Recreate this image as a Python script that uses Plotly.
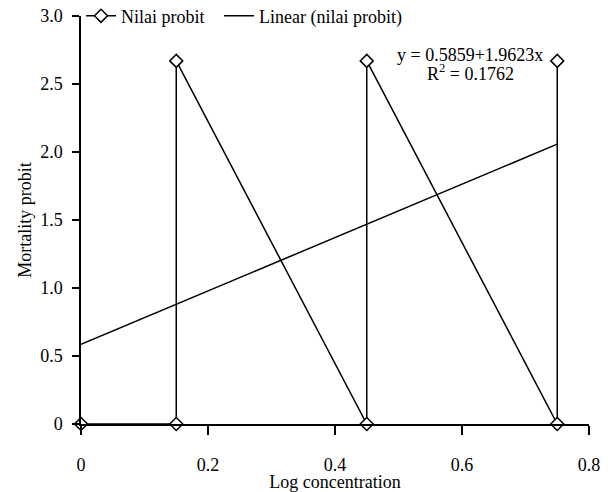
import plotly.graph_objects as go

log_conc = [0, 0.15, 0.15, 0.45, 0.45, 0.75, 0.75]
nilai_probit = [0, 0, 2.67, 0, 2.67, 0, 2.67]
intercept = 0.5859
slope = 1.9623
r2 = 0.1762
trend_x = [0, 0.75]
trend_y = [intercept + slope * x for x in trend_x]

x_ticks = [0, 0.2, 0.4, 0.6, 0.8]
x_labels = ["0", "0.2", "0.4", "0.6", "0.8"]
y_ticks = [0, 0.5, 1.0, 1.5, 2.0, 2.5, 3.0]
y_labels = ["0", "0.5", "1.0", "1.5", "2.0", "2.5", "3.0"]

font = "Liberation Serif, Times New Roman, serif"
FS = 18

fig = go.Figure()
fig.add_trace(go.Scatter(
    x=log_conc, y=nilai_probit, mode="lines+markers", name="Nilai probit",
    line=dict(color="black", width=1.5),
    marker=dict(symbol="diamond", size=10, color="white",
                line=dict(color="black", width=1.5)),
    cliponaxis=False, legend="legend",
))
fig.add_trace(go.Scatter(
    x=trend_x, y=trend_y, mode="lines", name="Linear (nilai probit)",
    line=dict(color="black", width=1.5), legend="legend2",
))

fig.add_annotation(
    x=0.6126, y=2.714, xref="x", yref="y",
    text=f"y = {intercept}+{slope}x",
    showarrow=False, font=dict(family=font, size=FS, color="black"),
)
fig.add_annotation(
    x=0.6126, y=2.584, xref="x", yref="y",
    text=f"R<sup>2</sup> = {r2}",
    showarrow=False, font=dict(family=font, size=FS, color="black"),
)

leg_common = dict(orientation="h", y=1.045, xanchor="left", yanchor="top",
                  bgcolor="rgba(0,0,0,0)", font=dict(size=FS),
                  itemwidth=30, tracegroupgap=0)

fig.update_layout(
    width=600, height=484,
    margin=dict(l=73, r=19, t=8, b=68, autoexpand=False),
    plot_bgcolor="white", paper_bgcolor="white",
    font=dict(family=font, size=FS, color="black"),
    showlegend=True,
    legend=dict(x=0.0, **leg_common),
    legend2=dict(x=0.2717, **leg_common),
)
fig.update_xaxes(
    range=[0, 0.8], tickvals=x_ticks, ticktext=x_labels, automargin=False,
    showgrid=False, zeroline=False, showline=True, linecolor="black", linewidth=1.5,
    ticks="outside", ticklen=9, tickwidth=1.5, tickcolor="black",
    ticklabelstandoff=15, ticklabeloverflow="allow",
    title=dict(text="Log concentration", font=dict(size=FS), standoff=0),
)
fig.update_yaxes(
    range=[0, 3.0], tickvals=y_ticks, ticktext=y_labels, automargin=False,
    showgrid=False, zeroline=False, showline=True, linecolor="black", linewidth=1.5,
    ticks="outside", ticklen=7, tickwidth=1.5, tickcolor="black",
    ticklabelstandoff=6, ticklabeloverflow="allow",
    title=dict(text="Mortality probit", font=dict(size=FS), standoff=4),
)

fig.write_html("out.html")
